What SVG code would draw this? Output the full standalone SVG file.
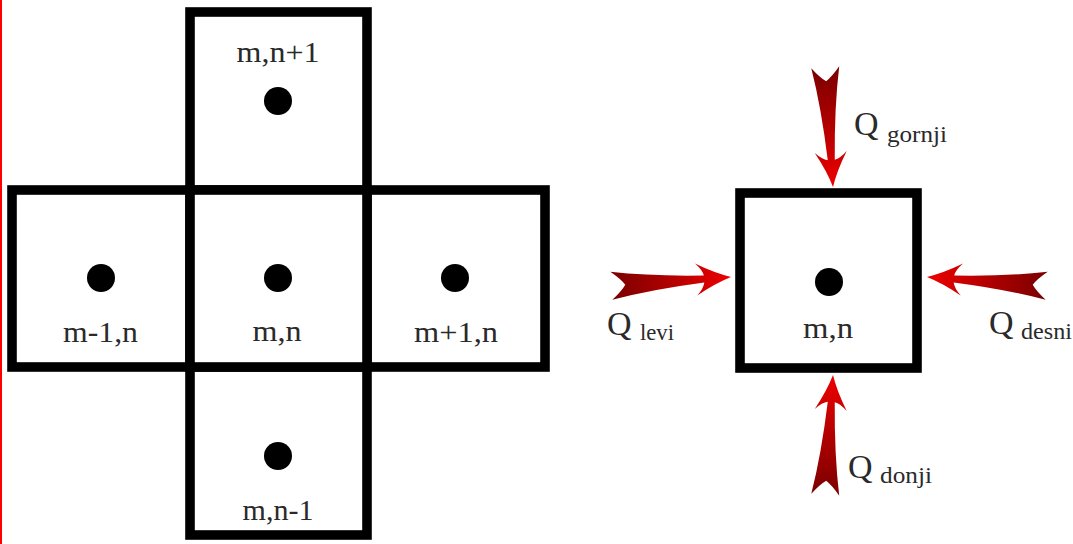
<svg xmlns="http://www.w3.org/2000/svg" xmlns:xlink="http://www.w3.org/1999/xlink" width="1073" height="544" viewBox="0 0 1073 544">
  <style>
    .cell { fill: #ffffff; stroke: #000000; stroke-width: 9.6; }
    .dot { fill: #000000; }
    .lbl { font-family: "Liberation Serif", "Times New Roman", serif; font-size: 30px; fill: #2a2a2a; text-anchor: middle; }
    .q { font-family: "Liberation Serif", "Times New Roman", serif; font-size: 34px; fill: #2a2a2a; }
    .sub { font-family: "Liberation Serif", "Times New Roman", serif; font-size: 24px; fill: #2a2a2a; }
  </style>
  <defs>
    <linearGradient id="arrowGrad" x1="0" y1="0" x2="1" y2="0">
      <stop offset="0" stop-color="#7a0000"/>
      <stop offset="0.55" stop-color="#b80000"/>
      <stop offset="1" stop-color="#ee0000"/>
    </linearGradient>
    <path id="fancyArrow" fill="url(#arrowGrad)" d="M0,0 Q-16,-5 -35,-16 Q-28,-9 -27,-3.5 Q-80,-6.5 -120,-14 Q-110,-6 -106,0 Q-110,6 -120,14 Q-80,6.5 -27,3.5 Q-28,9 -35,16 Q-16,5 0,0 Z"/>
  </defs>

  <rect width="1073" height="544" fill="#ffffff"/>
  <rect x="0" y="0" width="2" height="544" fill="#ff0000"/>

  <!-- Left cross stencil -->
  <g id="cell-top">
    <rect class="cell" x="190" y="12" width="177" height="178"/>
    <circle class="dot" cx="278" cy="101" r="14"/>
    <text class="lbl" x="278" y="62" textLength="83" lengthAdjust="spacingAndGlyphs">m,n+1</text>
  </g>
  <g id="cell-left">
    <rect class="cell" x="12" y="190" width="178" height="177"/>
    <circle class="dot" cx="101" cy="278" r="14"/>
    <text class="lbl" x="100.5" y="342" textLength="75" lengthAdjust="spacingAndGlyphs">m-1,n</text>
  </g>
  <g id="cell-right">
    <rect class="cell" x="367" y="190" width="178" height="177"/>
    <circle class="dot" cx="455" cy="278" r="14"/>
    <text class="lbl" x="456" y="342" textLength="84" lengthAdjust="spacingAndGlyphs">m+1,n</text>
  </g>
  <g id="cell-bottom">
    <rect class="cell" x="190" y="367" width="177" height="168"/>
    <circle class="dot" cx="278" cy="456" r="14"/>
    <text class="lbl" x="278" y="520" textLength="71" lengthAdjust="spacingAndGlyphs">m,n-1</text>
  </g>
  <g id="cell-center">
    <rect class="cell" x="190" y="190" width="177" height="177"/>
    <circle class="dot" cx="278" cy="278" r="14"/>
    <text class="lbl" x="277" y="341" textLength="49" lengthAdjust="spacingAndGlyphs">m,n</text>
  </g>

  <!-- Right single cell -->
  <g id="cell-single">
    <rect class="cell" x="740" y="193" width="177" height="175"/>
    <circle class="dot" cx="829" cy="282" r="14"/>
    <text class="lbl" x="828" y="338" textLength="50" lengthAdjust="spacingAndGlyphs">m,n</text>
  </g>

  <!-- Flux arrows -->
  <g id="connectors">
    <use xlink:href="#fancyArrow" href="#fancyArrow" transform="translate(833,187) rotate(86.3)"/>
    <use xlink:href="#fancyArrow" href="#fancyArrow" transform="translate(731,277) rotate(-4.2)"/>
    <use xlink:href="#fancyArrow" href="#fancyArrow" transform="translate(927,277) rotate(184.2)"/>
    <use xlink:href="#fancyArrow" href="#fancyArrow" transform="translate(833,375) rotate(-86.3)"/>
  </g>

  <g id="labels">
    <g id="label-gornji">
      <text class="q" x="854" y="135">Q</text>
      <text class="sub" x="887" y="142" textLength="60" lengthAdjust="spacingAndGlyphs">gornji</text>
    </g>
    <g id="label-levi">
      <text class="q" x="607" y="335">Q</text>
      <text class="sub" x="640" y="340" textLength="34" lengthAdjust="spacingAndGlyphs">levi</text>
    </g>
    <g id="label-desni">
      <text class="q" x="989" y="334">Q</text>
      <text class="sub" x="1021" y="339" textLength="51" lengthAdjust="spacingAndGlyphs">desni</text>
    </g>
    <g id="label-donji">
      <text class="q" x="848" y="478">Q</text>
      <text class="sub" x="880" y="483" textLength="52" lengthAdjust="spacingAndGlyphs">donji</text>
    </g>
  </g>
</svg>
